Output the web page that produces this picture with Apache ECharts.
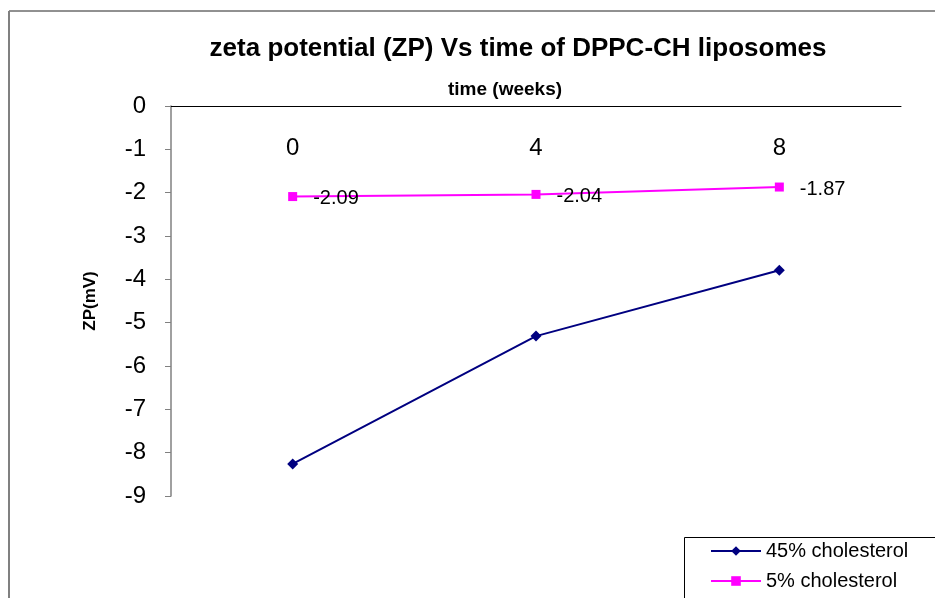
<!DOCTYPE html>
<html>
<head>
<meta charset="utf-8">
<script src="https://cdn.jsdelivr.net/npm/echarts@6/dist/echarts.min.js"></script>
<style>
  html, body { margin: 0; padding: 0; background: #fff; }
  #chart { width: 935px; height: 598px; }
</style>
</head>
<body>
<div id="chart"></div>
<script>
// Storage time points (weeks)
const weeks = ['0', '4', '8'];
// Zeta potential (mV) per formulation
const chol45 = [-8.26, -5.31, -3.79];
const chol5 = [-2.09, -2.04, -1.87];
const seriesNames = ['45% cholesterol', '5% cholesterol'];

const chart = echarts.init(document.getElementById('chart'), null, { renderer: 'canvas' });
const font = 'Arial, "Liberation Sans", sans-serif';
const legendText = { fontFamily: font, fontSize: 20, color: '#000' };

chart.setOption({
  backgroundColor: '#ffffff',
  animation: false,
  title: [
    {
      text: 'zeta potential (ZP) Vs time of DPPC-CH liposomes',
      left: 513, top: 31, textAlign: 'center',
      textStyle: { fontFamily: font, fontSize: 26, fontWeight: 'bold', color: '#000' }
    },
    {
      text: 'time (weeks)',
      left: 500, top: 75, textAlign: 'center',
      textStyle: { fontFamily: font, fontSize: 19, fontWeight: 'bold', color: '#000' }
    }
  ],
  graphic: [
    // chart frame
    { type: 'line', shape: { x1: 9, y1: 11, x2: 935, y2: 11 }, style: { stroke: '#222', lineWidth: 1 } },
    { type: 'line', shape: { x1: 9, y1: 11, x2: 9, y2: 598 }, style: { stroke: '#808080', lineWidth: 2 } },
    // legend box
    { type: 'rect', shape: { x: 684.5, y: 537.5, width: 400, height: 100 }, style: { fill: 'none', stroke: '#000', lineWidth: 1 }, z: 1 }
  ],
  legend: [
    {
      data: [seriesNames[0]],
      left: 710, top: 541, padding: 0,
      itemWidth: 50, itemHeight: 12,
      textStyle: legendText
    },
    {
      data: [seriesNames[1]],
      left: 710, top: 571, padding: 0,
      itemWidth: 50, itemHeight: 12,
      textStyle: legendText
    }
  ],
  grid: { left: 171, top: 106, right: 34, bottom: 102 },
  xAxis: {
    type: 'category',
    data: weeks,
    position: 'top',
    boundaryGap: true,
    axisLine: { onZero: false, lineStyle: { color: '#000', width: 1 } },
    axisTick: { inside: true, length: 5, lineStyle: { color: '#000' } },
    axisLabel: { inside: true, margin: 30, fontFamily: font, fontSize: 24, color: '#000' },
    splitLine: { show: false }
  },
  yAxis: {
    type: 'value',
    min: -9, max: 0, interval: 1,
    name: 'ZP(mV)',
    nameLocation: 'middle',
    nameGap: 72,
    nameTextStyle: { fontFamily: font, fontSize: 17, fontWeight: 'bold', color: '#000' },
    axisLine: { show: true, lineStyle: { color: '#808080', width: 1.5 } },
    axisTick: { show: true, length: 6, lineStyle: { color: '#808080' } },
    axisLabel: { margin: 25, fontFamily: font, fontSize: 24, color: '#000' },
    splitLine: { show: false }
  },
  series: [
    {
      name: seriesNames[0],
      type: 'line',
      data: chol45,
      symbol: 'diamond',
      symbolSize: 11,
      lineStyle: { color: '#000080', width: 2 },
      itemStyle: { color: '#000080' }
    },
    {
      name: seriesNames[1],
      type: 'line',
      data: chol5,
      symbol: 'rect',
      symbolSize: 9,
      lineStyle: { color: '#FF00FF', width: 2 },
      itemStyle: { color: '#FF00FF' },
      label: {
        show: true, position: 'right', distance: 16, offset: [0, 2],
        fontFamily: font, fontSize: 20, color: '#000',
        formatter: p => p.value.toFixed(2)
      }
    }
  ]
});
</script>
</body>
</html>
